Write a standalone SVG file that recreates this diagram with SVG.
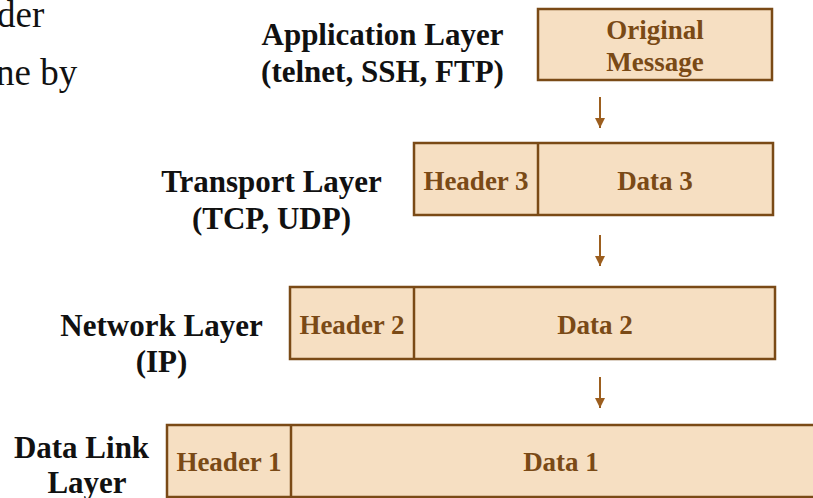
<svg xmlns="http://www.w3.org/2000/svg" width="813" height="498" viewBox="0 0 813 498">
  <style>
    .bg { fill: #ffffff; }
    text { font-family: "Liberation Serif", Tinos, "Times New Roman", "DejaVu Serif", serif; }
    .slide { font-size: 37px; fill: #111111; }
    .layer { font-size: 31px; font-weight: bold; fill: #111111; text-anchor: middle; }
    .cell { fill: #F6DFC2; stroke: #7A4A16; stroke-width: 2.5; }
    .sep { stroke: #7A4A16; stroke-width: 2.5; }
    .lbl { font-size: 27px; font-weight: bold; fill: #7A4A16; text-anchor: middle; }
    .flow { stroke: #9C5E1E; stroke-width: 2; fill: none; }
  </style>
  <defs>
    <marker id="head" viewBox="0 0 10 10" refX="10" refY="5" markerWidth="5" markerHeight="5" orient="auto" markerUnits="strokeWidth">
      <path d="M0,0 L10,5 L0,10 z" fill="#9C5E1E"/>
    </marker>
  </defs>

  <rect class="bg" x="0" y="0" width="813" height="498"/>

  <!-- slide body text running off the left edge -->
  <text class="slide" x="-3" y="27">der</text>
  <text class="slide" x="-4" y="85">ne by</text>

  <!-- layer names -->
  <g id="labels">
    <text class="layer" x="382.5" y="45">Application Layer</text>
    <text class="layer" x="382.5" y="82">(telnet, SSH, FTP)</text>
    <text class="layer" x="271.5" y="192">Transport Layer</text>
    <text class="layer" x="271.5" y="229">(TCP, UDP)</text>
    <text class="layer" x="161.5" y="336">Network Layer</text>
    <text class="layer" x="161.5" y="372">(IP)</text>
    <text class="layer" x="81.5" y="458">Data Link</text>
    <text class="layer" x="87" y="493">Layer</text>
  </g>

  <!-- application message -->
  <g id="app-msg">
    <rect class="cell" x="538" y="9" width="234" height="71"/>
    <text class="lbl" x="655" y="39">Original</text>
    <text class="lbl" x="655" y="71">Message</text>
  </g>

  <!-- transport segment -->
  <g id="transport-seg">
    <rect class="cell" x="414" y="143" width="359" height="72"/>
    <line class="sep" x1="538" y1="143" x2="538" y2="215"/>
    <text class="lbl" x="476" y="190">Header 3</text>
    <text class="lbl" x="655" y="190">Data 3</text>
  </g>

  <!-- network packet -->
  <g id="network-pkt">
    <rect class="cell" x="290" y="287" width="485" height="72"/>
    <line class="sep" x1="414" y1="287" x2="414" y2="359"/>
    <text class="lbl" x="352" y="334">Header 2</text>
    <text class="lbl" x="595" y="334">Data 2</text>
  </g>

  <!-- link frame -->
  <g id="link-frame">
    <rect class="cell" x="167" y="425" width="660" height="72"/>
    <line class="sep" x1="291" y1="425" x2="291" y2="497"/>
    <text class="lbl" x="229" y="471">Header 1</text>
    <text class="lbl" x="561" y="471">Data 1</text>
  </g>

  <!-- encapsulation steps -->
  <g id="connectors">
    <line class="flow" x1="600" y1="97" x2="600" y2="128" marker-end="url(#head)"/>
    <line class="flow" x1="600" y1="235" x2="600" y2="266" marker-end="url(#head)"/>
    <line class="flow" x1="600" y1="377" x2="600" y2="408" marker-end="url(#head)"/>
  </g>
</svg>
